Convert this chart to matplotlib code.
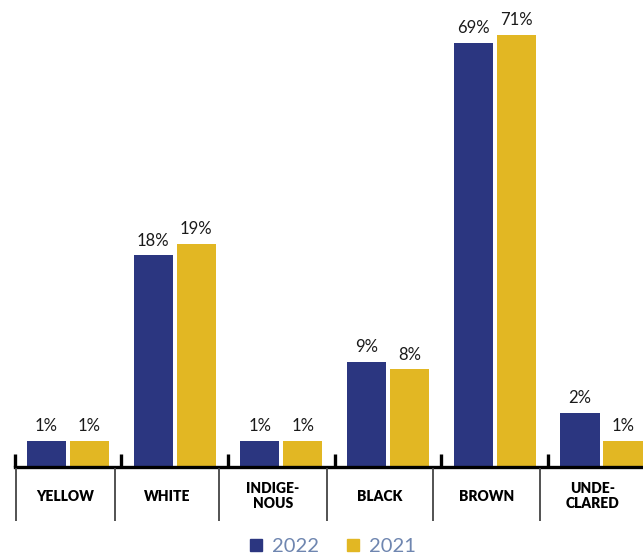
import matplotlib.pyplot as plt
import numpy as np
from matplotlib.lines import Line2D

categories = ["YELLOW", "WHITE", "INDIGE-\nNOUS", "BLACK", "BROWN", "UNDE-\nCLARED"]
years = ["2022", "2021"]
share_2022 = [1, 18, 1, 9, 69, 2]
share_2021 = [1, 19, 1, 8, 71, 1]

navy = "#2B3680"
gold = "#E2B723"

# the published axis is not linear: small shares are stretched, large ones squeezed
y_breaks = [0, 1, 2, 9, 19, 71, 100]
y_pixels = [0, 26, 54, 105, 223, 432, 548.6]


def fwd(v):
    return np.interp(v, y_breaks, y_pixels)


def inv(p):
    return np.interp(p, y_pixels, y_breaks)


W, H = 643, 557
fig = plt.figure(figsize=(W / 100, H / 100), dpi=100)

base = 466.5
ax = fig.add_axes([0, (H - base) / H, 1, base / H])
ax.set_yscale("function", functions=(fwd, inv))

x = np.arange(len(categories))
off = 0.2015
bw = 0.366
b1 = ax.bar(x - off, share_2022, bw, color=navy)
b2 = ax.bar(x + off, share_2021, bw, color=gold)
for bars, vals in ((b1, share_2022), (b2, share_2021)):
    for b, v in zip(bars, vals):
        ax.annotate(f"{v}%", (b.get_x() + b.get_width() / 2, v),
                    xytext=(0, 4.5), textcoords="offset points",
                    ha="center", va="bottom", fontsize=12,
                    family="Lato", color="#1a1a1a")

ax.set_xlim(-68 / 106.7, (W - 68) / 106.7)
ax.set_ylim(0, inv(base))

for s in ("top", "right", "left"):
    ax.spines[s].set_visible(False)
ax.spines["bottom"].set_linewidth(2.4)
ax.spines["bottom"].set_bounds(-0.5, ax.get_xlim()[1])
ax.set_yticks([])
ax.set_xticks(x - 0.5)
ax.set_xticklabels([])
ax.tick_params(axis="x", direction="in", length=9.5, width=2.4, color="black")

# label row under the axis with grey dividers
row = fig.add_axes([0, (H - 521) / H, 1, (521 - 468) / H])
row.set_xlim(0, W)
row.set_ylim(0, 1)
row.axis("off")
dividers = [16, 115, 219, 327, 433, 540, 646]
row.vlines(dividers, 0, 1, color="#444444", lw=1.3)
for i, name in enumerate(categories):
    cx = (dividers[i] + dividers[i + 1]) / 2
    row.text(cx, 0.47, name, ha="center", va="center", fontsize=10,
             family="Lato", weight="heavy", linespacing=1.2)

handles = [Line2D([], [], marker="s", ls="", color=c, markersize=8.8)
           for c in (navy, gold)]
leg = fig.legend(handles, years, loc="center", bbox_to_anchor=(332 / W, (H - 546) / H),
                 ncol=2, frameon=False, handlelength=0.8, handletextpad=0.4,
                 columnspacing=1.3, borderpad=0, prop={"family": "Lato", "size": 14.5})
for t in leg.get_texts():
    t.set_color("#6F86B0")

fig.savefig("out.png", dpi=100)
